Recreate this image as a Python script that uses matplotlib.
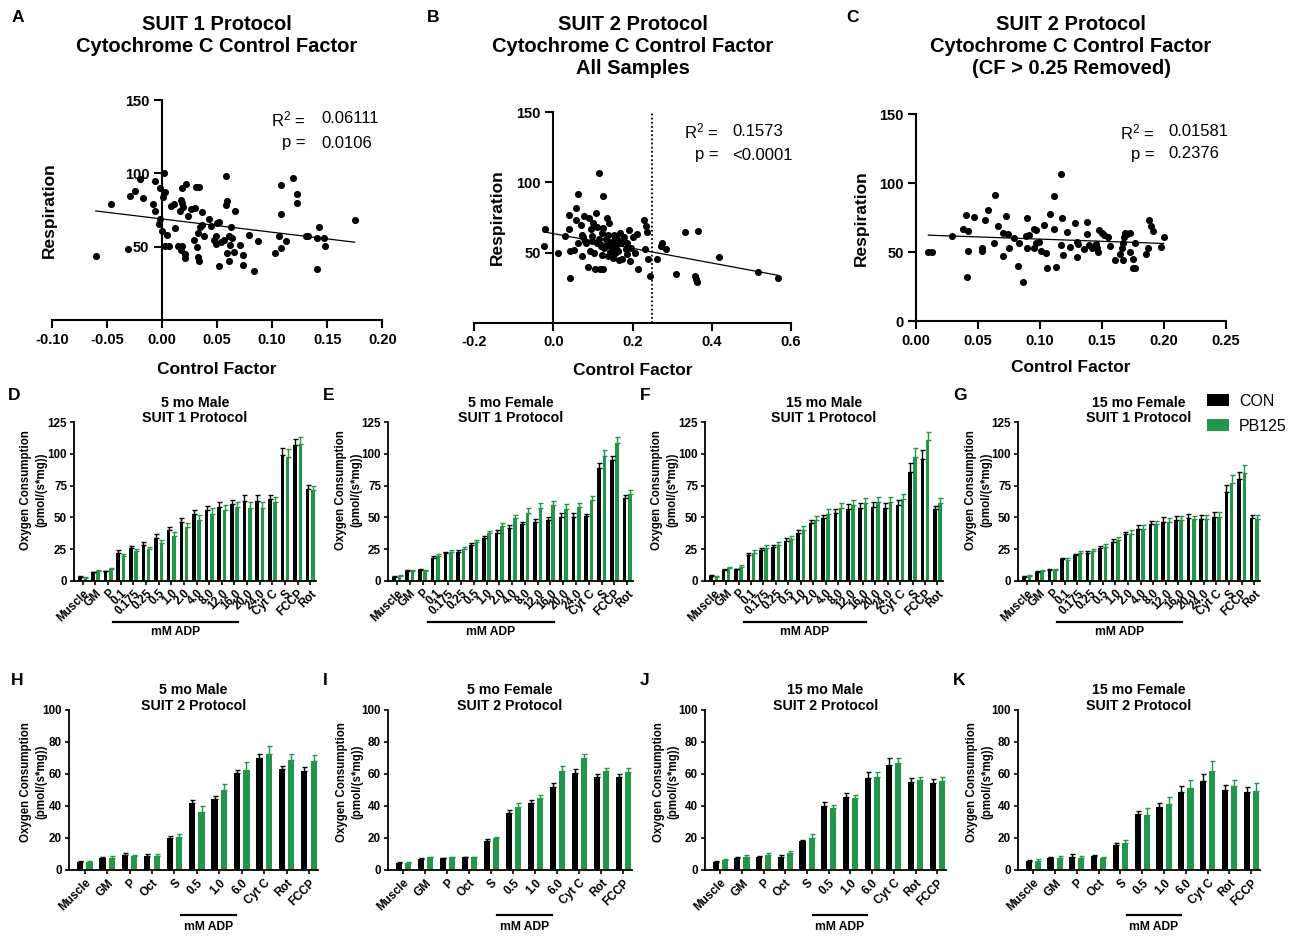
import numpy as np
import matplotlib
matplotlib.use('Agg')
import matplotlib.pyplot as plt
from matplotlib.transforms import blended_transform_factory, ScaledTranslation
from matplotlib.patches import Patch

plt.rcParams['font.family'] = ['Liberation Sans', 'DejaVu Sans']
plt.rcParams['font.weight'] = 'bold'
plt.rcParams['axes.labelweight'] = 'bold'
plt.rcParams['axes.unicode_minus'] = False
plt.rcParams['mathtext.fontset'] = 'custom'
plt.rcParams['mathtext.rm'] = 'Liberation Sans'
plt.rcParams['mathtext.default'] = 'regular'

# ------------------------------------------------------------------ data
# Panel A : SUIT 1 control factor vs respiration
A_cf = [-0.060, -0.046, -0.031, -0.029, -0.024, -0.020, -0.017, -0.008, -0.006, -0.006,
        -0.002, 0.002, 0.003, 0.001, -0.002, -0.003, 0.000, 0.003, 0.006, 0.005,
        0.012, 0.008, 0.011, 0.015, 0.017, 0.018, 0.021, 0.021, 0.017, 0.018,
        0.018, 0.022, 0.016, 0.019, 0.024, 0.026, 0.030, 0.031, 0.034, 0.029,
        0.032, 0.033, 0.033, 0.034, 0.035, 0.036, 0.036, 0.038, 0.043, 0.045,
        0.047, 0.049, 0.049, 0.050, 0.052, 0.052, 0.054, 0.056, 0.058, 0.058,
        0.059, 0.059, 0.061, 0.062, 0.061, 0.063, 0.064, 0.065, 0.066, 0.071,
        0.074, 0.074, 0.079, 0.084, 0.087, 0.103, 0.106, 0.108, 0.108, 0.108,
        0.113, 0.119, 0.123, 0.123, 0.131, 0.133, 0.141, 0.141, 0.143, 0.147,
        0.148, 0.175]
A_resp = [43.9, 79.0, 48.4, 84.8, 88.0, 96.0, 83.0, 79.0, 74.3, 95.0,
          90.0, 100.0, 87.5, 84.0, 69.0, 65.5, 61.0, 50.7, 50.7, 58.0,
          62.5, 78.0, 79.0, 50.7, 47.7, 50.7, 45.0, 42.5, 82.0, 79.5,
          90.0, 93.0, 74.3, 77.0, 71.0, 76.0, 76.6, 90.5, 90.5, 54.5,
          50.0, 59.0, 43.0, 40.0, 63.6, 73.4, 65.0, 57.0, 69.0, 64.0,
          54.5, 52.0, 57.0, 66.0, 67.0, 37.0, 53.4, 54.5, 98.4, 78.4,
          81.4, 46.0, 57.0, 51.0, 40.0, 63.6, 55.7, 46.6, 74.3, 51.0,
          44.0, 37.5, 58.0, 33.4, 54.0, 46.0, 57.5, 72.0, 92.0, 49.0,
          54.0, 97.0, 86.0, 80.0, 57.5, 57.5, 55.7, 35.0, 63.6, 56.0,
          50.5, 68.0]
A_fit = (-90.6, 68.9)          # slope, intercept
A_stats = ('0.06111', '0.0106')

# Panel B : SUIT 2, all samples
B_cf = [-0.021, -0.024, 0.011, 0.029, 0.040, 0.040, 0.042, 0.042, 0.053, 0.056,
        0.063, 0.056, 0.063, 0.069, 0.072, 0.073, 0.076, 0.077, 0.083, 0.088,
        0.090, 0.093, 0.095, 0.097, 0.101, 0.103, 0.105, 0.107, 0.109, 0.111,
        0.116, 0.118, 0.120, 0.122, 0.125, 0.126, 0.126, 0.129, 0.133, 0.135,
        0.137, 0.139, 0.141, 0.145, 0.147, 0.150, 0.152, 0.154, 0.156, 0.160,
        0.164, 0.167, 0.168, 0.171, 0.173, 0.179, 0.184, 0.187, 0.192, 0.194,
        0.196, 0.202, 0.206, 0.211, 0.215, 0.230, 0.233, 0.236, 0.232, 0.240,
        0.244, 0.263, 0.271, 0.275, 0.284, 0.310, 0.334, 0.358, 0.360, 0.362,
        0.365, 0.419, 0.518, 0.567, 0.080, 0.115, 0.148, 0.158, 0.132, 0.098,
        0.162, 0.142, 0.176, 0.186, 0.124, 0.155]
B_resp = [66.7, 54.9, 49.4, 61.8, 76.7, 66.5, 51.3, 32.0, 51.8, 81.5,
          91.7, 73.0, 56.5, 69.6, 62.5, 47.5, 61.3, 76.0, 56.5, 39.4,
          74.8, 51.3, 66.7, 61.8, 70.8, 49.9, 38.2, 77.9, 57.0, 68.4,
          106.9, 38.0, 54.9, 63.6, 90.5, 38.0, 67.7, 53.0, 59.4, 75.0,
          47.5, 62.5, 70.8, 57.7, 53.0, 45.8, 62.5, 54.9, 49.4, 59.4,
          51.0, 44.7, 63.7, 56.5, 45.1, 61.3, 52.3, 56.5, 66.0, 43.9,
          53.0, 61.3, 49.9, 63.2, 38.2, 73.0, 69.1, 64.8, 52.3, 45.4,
          33.3, 45.4, 54.9, 56.5, 52.5, 34.7, 64.8, 33.3, 31.0, 28.7,
          65.6, 46.6, 36.3, 32.0, 58.0, 60.0, 56.0, 53.0, 55.0, 58.5,
          57.5, 50.5, 58.0, 49.0, 48.5, 60.0]
B_fit = (-52.3, 63.5)
B_stats = ('0.1573', '<0.0001')
B_cutoff = 0.25

# Panel C : SUIT 2, CF > 0.25 removed
C_cf = [0.010, 0.013, 0.029, 0.038, 0.040, 0.042, 0.042, 0.041, 0.047, 0.053,
        0.053, 0.056, 0.058, 0.063, 0.064, 0.066, 0.070, 0.070, 0.073, 0.074,
        0.075, 0.079, 0.082, 0.083, 0.086, 0.089, 0.090, 0.090, 0.091, 0.095,
        0.095, 0.097, 0.097, 0.099, 0.101, 0.103, 0.105, 0.106, 0.108, 0.111,
        0.111, 0.113, 0.117, 0.117, 0.118, 0.119, 0.122, 0.124, 0.128, 0.130,
        0.130, 0.131, 0.136, 0.138, 0.138, 0.140, 0.142, 0.145, 0.146, 0.147,
        0.148, 0.150, 0.152, 0.155, 0.157, 0.161, 0.165, 0.166, 0.167, 0.167,
        0.168, 0.169, 0.170, 0.173, 0.173, 0.175, 0.175, 0.177, 0.177, 0.186,
        0.187, 0.188, 0.190, 0.191, 0.198, 0.200]
C_resp = [50.2, 49.8, 61.6, 66.7, 76.8, 65.2, 51.0, 32.0, 75.6, 53.1,
          50.7, 73.2, 80.9, 56.8, 91.3, 69.1, 63.5, 47.3, 76.1, 63.0,
          52.7, 60.4, 39.9, 56.3, 28.0, 61.6, 74.4, 53.1, 62.3, 67.1,
          52.7, 65.9, 56.3, 57.5, 51.0, 70.0, 49.0, 38.2, 78.0, 66.7,
          90.6, 38.9, 55.0, 107.0, 74.9, 47.8, 64.3, 53.9, 70.8, 57.5,
          46.1, 55.6, 52.2, 72.0, 62.8, 55.0, 52.7, 55.8, 52.7, 50.2,
          65.9, 63.5, 62.3, 61.1, 54.6, 44.2, 48.3, 52.7, 56.3, 44.2,
          61.1, 63.5, 63.0, 63.5, 49.8, 44.9, 38.6, 38.6, 56.3, 48.6,
          53.1, 73.2, 69.1, 65.5, 53.9, 60.6]
C_fit = (-31.7, 62.6)
C_stats = ('0.01581', '0.2376')

# SUIT 1 protocol bar panels (D-G)
SUIT1_CATS = ['Muscle', 'GM', 'P', '0.1', '0.175', '0.25', '0.5', '1.0', '2.0', '4.0',
              '8.0', '12.0', '16.0', '20.0', '24.0', 'Cyt C', 'S', 'FCCP', 'Rot']
D_con = [3.0, 6.5, 7.5, 22.0, 25.5, 28.0, 34.0, 40.0, 46.3, 52.4, 55.8, 58.4, 60.5, 63.2, 63.2, 64.2, 99.2, 107.0, 72.0]
D_con_err = [0.5, 0.5, 0.5, 2.0, 2.0, 2.5, 2.5, 2.5, 3.0, 3.0, 3.5, 3.5, 3.5, 4.5, 4.5, 3.5, 5.5, 5.0, 3.5]
D_pb = [2.5, 7.5, 9.0, 19.5, 23.4, 24.7, 29.5, 35.3, 42.6, 48.0, 53.0, 55.8, 57.9, 57.0, 57.0, 62.4, 97.4, 107.6, 71.6]
D_pb_err = [0.5, 0.7, 0.7, 1.5, 1.5, 2.0, 2.5, 3.0, 3.0, 4.0, 4.0, 4.0, 4.0, 5.5, 5.5, 3.5, 6.5, 6.0, 3.5]

E_con = [3.2, 7.9, 8.4, 18.2, 21.6, 22.9, 28.2, 33.4, 37.9, 41.8, 44.7, 46.3, 47.9, 50.5, 50.5, 51.0, 88.7, 95.3, 65.0]
E_con_err = [0.5, 0.5, 0.5, 1.0, 1.0, 1.0, 1.5, 1.5, 2.0, 2.0, 2.0, 2.0, 2.0, 3.0, 3.0, 2.0, 4.0, 3.0, 2.5]
E_pb = [3.7, 7.6, 7.9, 19.7, 22.9, 24.7, 30.8, 37.4, 43.4, 49.2, 53.7, 57.6, 59.7, 56.6, 57.9, 63.7, 98.4, 109.0, 68.4]
E_pb_err = [0.5, 0.5, 0.5, 1.0, 1.0, 1.5, 1.5, 2.0, 2.5, 3.0, 3.5, 3.5, 3.5, 4.0, 3.5, 3.0, 4.5, 4.5, 3.0]

F_con = [3.7, 8.4, 8.9, 20.3, 24.2, 26.8, 31.6, 37.9, 45.3, 49.2, 53.2, 56.3, 57.1, 57.9, 57.6, 59.7, 86.0, 95.8, 56.3]
F_con_err = [0.5, 0.5, 0.5, 1.5, 1.5, 1.5, 2.0, 2.0, 2.5, 3.0, 3.5, 4.0, 4.0, 4.0, 4.0, 4.0, 7.0, 7.5, 3.0]
F_pb = [3.2, 9.7, 11.0, 22.0, 25.5, 27.9, 32.6, 40.0, 47.9, 53.0, 57.0, 59.7, 61.6, 62.4, 62.4, 64.2, 97.4, 111.0, 61.0]
F_pb_err = [0.5, 1.0, 1.5, 2.5, 2.5, 2.5, 2.5, 3.0, 3.0, 3.5, 4.0, 4.0, 4.0, 4.0, 4.0, 4.0, 7.0, 6.5, 4.0]

G_con = [3.2, 7.1, 8.4, 16.8, 20.3, 22.1, 26.0, 30.8, 36.8, 40.8, 44.5, 46.6, 47.9, 49.2, 48.4, 50.5, 70.3, 80.0, 49.2]
G_con_err = [0.5, 0.5, 0.5, 0.8, 1.0, 1.0, 1.5, 2.0, 2.0, 3.0, 3.0, 3.5, 3.5, 3.5, 3.5, 3.5, 5.0, 6.0, 3.0]
G_pb = [3.7, 7.9, 8.4, 16.3, 21.6, 23.4, 26.8, 32.1, 36.8, 40.8, 44.5, 46.6, 47.9, 48.4, 48.4, 50.5, 76.8, 84.7, 48.4]
G_pb_err = [0.5, 0.5, 0.5, 2.0, 2.0, 2.0, 2.5, 2.5, 3.0, 3.0, 3.0, 3.0, 3.0, 3.0, 3.5, 3.5, 7.0, 6.5, 3.5]

# SUIT 2 protocol bar panels (H-K)
SUIT2_CATS = ['Muscle', 'GM', 'P', 'Oct', 'S', '0.5', '1.0', '6.0', 'Cyt C', 'Rot', 'FCCP']
H_con = [4.8, 7.7, 9.2, 9.0, 20.2, 42.0, 44.2, 60.8, 70.2, 63.0, 62.0]
H_con_err = [0.6, 0.6, 1.2, 1.0, 0.8, 2.0, 2.3, 2.0, 2.0, 2.2, 2.5]
H_pb = [4.8, 7.7, 9.0, 9.0, 20.4, 36.5, 50.0, 62.5, 72.3, 68.8, 68.3]
H_pb_err = [1.0, 0.8, 0.6, 0.8, 1.8, 3.8, 3.5, 5.0, 5.5, 3.5, 3.5]

I_con = [4.6, 7.0, 7.3, 7.9, 18.3, 35.4, 41.7, 52.0, 60.4, 58.0, 58.3]
I_con_err = [0.5, 0.5, 0.5, 0.5, 1.0, 2.0, 2.0, 2.5, 2.5, 2.0, 2.0]
I_pb = [4.6, 7.9, 7.9, 7.9, 19.8, 39.6, 44.8, 62.0, 69.8, 62.0, 61.5]
I_pb_err = [0.5, 0.5, 0.5, 0.5, 1.0, 2.0, 2.0, 3.0, 3.0, 2.0, 2.0]

J_con = [5.2, 7.3, 7.9, 8.3, 18.1, 40.0, 45.4, 57.3, 65.6, 55.2, 54.2]
J_con_err = [0.6, 1.0, 1.0, 1.0, 0.8, 2.5, 3.0, 4.0, 4.5, 2.5, 2.5]
J_pb = [6.2, 8.3, 9.4, 10.4, 20.2, 38.5, 44.8, 58.3, 66.7, 56.3, 55.8]
J_pb_err = [0.7, 1.0, 1.5, 1.5, 2.0, 2.0, 2.0, 3.0, 3.0, 2.0, 2.5]

K_con = [5.6, 7.3, 8.3, 8.8, 15.6, 34.8, 39.6, 49.0, 55.8, 50.0, 49.0]
K_con_err = [0.8, 0.8, 1.5, 0.8, 1.5, 2.0, 2.5, 3.5, 4.0, 3.0, 3.0]
K_pb = [5.8, 7.7, 7.7, 7.3, 16.7, 34.4, 41.3, 51.0, 62.0, 52.5, 49.6]
K_pb_err = [0.8, 1.0, 1.0, 1.0, 2.0, 4.5, 4.5, 5.0, 6.0, 4.0, 5.0]

GROUPS = ['CON', 'PB125']
COLORS = ['#000000', '#22964a']

# ------------------------------------------------------------------ figure
W, H = 1298, 940
fig = plt.figure(figsize=(W / 100, H / 100), dpi=100)


def rect(l, r, t, b):
    return [l / W, 1 - b / H, (r - l) / W, (b - t) / H]


def ftext(x, y, s, **kw):
    fig.text(x / W, 1 - y / H, s, **kw)


def scatter_panel(box, cf, resp, fit, stats, xlim, xticks, xfmt, yticks,
                  yspine_at_zero, ylabel_x, stat_pos, cutoff=None):
    ax = fig.add_axes(rect(*box))
    ax.set_xlim(*xlim)
    ax.set_ylim(0, 150)
    for s in ('top', 'right'):
        ax.spines[s].set_visible(False)
    for s in ('left', 'bottom'):
        ax.spines[s].set_linewidth(1.5)
    if yspine_at_zero:
        ax.spines['left'].set_position(('data', 0))
    ax.set_xticks(xticks)
    ax.set_xticklabels([xfmt % v for v in xticks])
    ax.set_yticks(yticks)
    ax.set_yticklabels([str(v) for v in yticks])
    ax.tick_params(direction='out', length=6, width=1.5, labelsize=10.5, pad=3)
    ax.scatter(cf, resp, s=26, color='black', zorder=5, clip_on=False, linewidths=0)
    xs = np.array([min(cf), max(cf)])
    ax.plot(xs, fit[0] * xs + fit[1], color='black', lw=0.9, zorder=4)
    if cutoff is not None:
        ax.axvline(cutoff, color='black', lw=1.3, ls=(0, (1, 1.3)), zorder=3)
    ax.set_ylabel('Respiration', fontsize=12.5)
    ax.yaxis.set_label_coords(ylabel_x, 0.5)
    ax.set_xlabel('Control Factor', fontsize=12.5)
    ax.xaxis.set_label_coords(0.5, -0.19)
    rx, vx, y1, y2 = stat_pos
    ftext(rx, y1, 'R$^2$ =', fontsize=12, fontweight='normal', ha='right', va='center')
    ftext(rx, y2, 'p =', fontsize=12, fontweight='normal', ha='right', va='center')
    ftext(vx, y1, stats[0], fontsize=12, fontweight='normal', ha='left', va='center')
    ftext(vx, y2, stats[1], fontsize=12, fontweight='normal', ha='left', va='center')
    return ax


scatter_panel((51.7, 382.3, 100, 320), A_cf, A_resp, A_fit, A_stats,
              (-0.10, 0.20), [-0.10, -0.05, 0.0, 0.05, 0.10, 0.15, 0.20], '%.2f',
              [50, 100, 150], True, 0.016, (306, 321, 119, 143))
scatter_panel((474.3, 790.7, 112.3, 322.7), B_cf, B_resp, B_fit, B_stats,
              (-0.2, 0.6), [-0.2, 0.0, 0.2, 0.4, 0.6], '%.1f',
              [50, 100, 150], True, 0.097, (719, 732, 131, 155), cutoff=B_cutoff)
scatter_panel((916, 1225.7, 114.3, 321), C_cf, C_resp, C_fit, C_stats,
              (0.0, 0.25), [0.0, 0.05, 0.10, 0.15, 0.20, 0.25], '%.2f',
              [0, 50, 100, 150], False, -0.152, (1155, 1168, 132, 154))

# titles of the scatter panels
title_kw = dict(fontsize=14.5, ha='center', va='top', linespacing=1.2)
ftext(217, 15, 'SUIT 1 Protocol\nCytochrome C Control Factor', **title_kw)
ftext(633, 15, 'SUIT 2 Protocol\nCytochrome C Control Factor\nAll Samples', **title_kw)
ftext(1071, 15, 'SUIT 2 Protocol\nCytochrome C Control Factor\n(CF > 0.25 Removed)', **title_kw)


def bar_panel(box, cats, con, con_err, pb, pb_err, ymax, ystep, title,
              xlim, adp_span, line_y, text_y, ylab_x, ylab_y):
    ax = fig.add_axes(rect(*box))
    x = np.arange(len(cats))
    off, bw = 0.21, 0.28
    for vals, errs, col, sgn in ((con, con_err, COLORS[0], -1), (pb, pb_err, COLORS[1], 1)):
        ax.bar(x + sgn * off, vals, width=bw, color=col, zorder=2)
        ax.errorbar(x + sgn * off, vals, yerr=[np.zeros(len(vals)), errs], fmt='none',
                    ecolor=col, elinewidth=1.0, capsize=1.8, capthick=1.0, zorder=3)
    ax.set_xlim(*xlim)
    ax.set_ylim(0, ymax)
    ax.set_yticks(np.arange(0, ymax + 1, ystep))
    for s in ('top', 'right'):
        ax.spines[s].set_visible(False)
    for s in ('left', 'bottom'):
        ax.spines[s].set_linewidth(1.3)
    ax.set_xticks(x)
    ax.set_xticklabels(cats, rotation=45, ha='right', rotation_mode='anchor')
    ax.tick_params(axis='both', direction='out', width=1.2, length=3, labelsize=8.4, pad=2)
    ax.set_ylabel('Oxygen Consumption\n(pmol/(s*mg))', fontsize=8.3, linespacing=1.35)
    ax.yaxis.set_label_coords(ylab_x, ylab_y)
    shift = ScaledTranslation(0, -3 / 100, fig.dpi_scale_trans)
    ax.text(0.5, 1.0, title, transform=ax.transAxes + shift, ha='center', va='bottom',
            fontsize=10.2, linespacing=1.15)
    tr = blended_transform_factory(ax.transData, ax.transAxes)
    ax.plot(adp_span, [line_y, line_y], color='black', lw=1.6, transform=tr, clip_on=False)
    ax.text(sum(adp_span) / 2, text_y, 'mM ADP', transform=tr, ha='center', va='center',
            fontsize=8.7)
    return ax


row1_top, row1_bot = 422.3, 580.7
row1 = [((74, 316), D_con, D_con_err, D_pb, D_pb_err, '5 mo Male\nSUIT 1 Protocol', -0.11),
        ((388, 633), E_con, E_con_err, E_pb, E_pb_err, '5 mo Female\nSUIT 1 Protocol', -0.106),
        ((705, 943), F_con, F_con_err, F_pb, F_pb_err, '15 mo Male\nSUIT 1 Protocol', -0.113),
        ((1018, 1260), G_con, G_con_err, G_pb, G_pb_err, '15 mo Female\nSUIT 1 Protocol', -0.107)]
for (l, r), c, ce, p, pe, t, ylx in row1:
    bar_panel((l, r, row1_top, row1_bot), SUIT1_CATS, c, ce, p, pe, 125, 25, t,
              (-0.7, 18.45), (2.4, 12.25), -0.26, -0.325, ylx, 0.573)

row2_top, row2_bot = 710, 870
row2 = [((69, 318), H_con, H_con_err, H_pb, H_pb_err, '5 mo Male\nSUIT 2 Protocol', -0.088),
        ((388, 632), I_con, I_con_err, I_pb, I_pb_err, '5 mo Female\nSUIT 2 Protocol', -0.10),
        ((705, 946), J_con, J_con_err, J_pb, J_pb_err, '15 mo Male\nSUIT 2 Protocol', -0.105),
        ((1018, 1260), K_con, K_con_err, K_pb, K_pb_err, '15 mo Female\nSUIT 2 Protocol', -0.103)]
for (l, r), c, ce, p, pe, t, ylx in row2:
    bar_panel((l, r, row2_top, row2_bot), SUIT2_CATS, c, ce, p, pe, 100, 20, t,
              (-0.7, 10.4), (4.28, 6.76), -0.281, -0.356, ylx, 0.55)

# legend (panel G)
handles = [Patch(facecolor=COLORS[0]), Patch(facecolor=COLORS[1])]
fig.legend(handles, GROUPS, loc='upper left', bbox_to_anchor=(1207 / W, 1 - 394 / H),
           frameon=False, borderpad=0, borderaxespad=0, handlelength=1.35,
           handleheight=0.78, handletextpad=0.65, labelspacing=0.6,
           prop={'size': 11.5, 'weight': 'normal'})

# panel letters
letters = [('A', 12, 22), ('B', 427, 22), ('C', 846, 22),
           ('D', 8, 400), ('E', 323, 400), ('F', 640, 400), ('G', 953, 400),
           ('H', 11, 685), ('I', 323, 685), ('J', 640, 685), ('K', 953, 685)]
for s, x, y in letters:
    ftext(x, y, s, fontsize=12.5, ha='left', va='baseline')

fig.savefig('out.png', dpi=100)
